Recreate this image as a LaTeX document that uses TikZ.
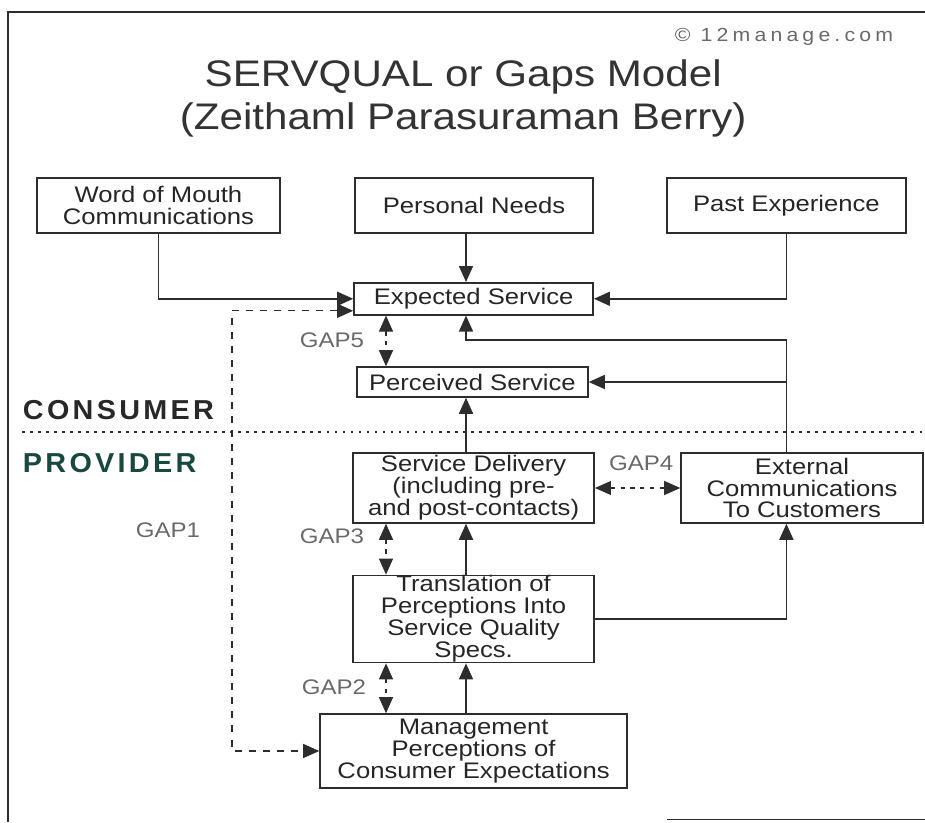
\documentclass[tikz,border=0pt]{standalone}
\usepackage{fontspec}
\setmainfont[FakeStretch=1.14]{Liberation Sans}
\newfontfamily\creditfont[FakeStretch=1.12,LetterSpace=22]{Liberation Sans}
\newfontfamily\sidefont[FakeStretch=1.05,LetterSpace=12]{Liberation Sans}
\usetikzlibrary{positioning,arrows.meta}
\definecolor{linegray}{RGB}{45,45,45}
\definecolor{gapgray}{RGB}{105,105,105}
\definecolor{consumergray}{RGB}{40,40,40}
\definecolor{providerteal}{RGB}{25,72,62}
\tikzset{
  flowarrow/.style={-{Triangle[length=4mm,width=3.5mm]}, line width=1.1pt, draw=linegray},
  gaparrow/.style={{Triangle[length=4mm,width=3.5mm]}-{Triangle[length=4mm,width=3.5mm]}, line width=0.8pt, draw=linegray, dash pattern=on 3pt off 4pt},
  modelbox/.style={draw=linegray, line width=1.1pt, fill=white, align=center, inner sep=1pt, text=black!85, font=\fontsize{16}{15.6}\selectfont},
  gaplabel/.style={text=gapgray, font=\fontsize{15}{16}\selectfont},
  sidelabel/.style={anchor=west, font=\sidefont\bfseries\fontsize{19.5}{20}\selectfont}
}

\begin{document}
\begin{tikzpicture}
  \useasboundingbox (0,0) rectangle (23.125,20.55);
  % frame of the scan
  \draw[line width=1pt, linegray] (0.2,0) -- (0.2,20.25) -- (23.125,20.25);
  \draw[line width=1pt, linegray] (16.68,0.06) -- (23.125,0.06);

  \node[text=gapgray, font=\creditfont\fontsize{13.5}{15}\selectfont] (credit) at (19.6,19.62) {© 12manage.com};
  \node[text=black!80, font=\fontsize{26.3}{30}\selectfont] (title) at (11.58,18.62) {SERVQUAL or Gaps Model};
  \node[text=black!80, font=\fontsize{26.3}{30}\selectfont] (subtitle) at (11.58,17.55) {(Zeithaml Parasuraman Berry)};

  % consumer side
  \node[modelbox, minimum width=6.08cm, minimum height=1.38cm] (mouth) at (3.96,15.41) {Word of Mouth\\Communications};
  \node[modelbox, minimum width=5.95cm, minimum height=1.38cm] (needs) at (11.85,15.41) {Personal Needs};
  \node[modelbox, minimum width=5.98cm, minimum height=1.38cm] (past) at (19.66,15.41) {Past Experience};
  \node[modelbox, minimum width=5.98cm, minimum height=0.8cm] (expected) at (11.84,13.08) {Expected Service};
  \node[modelbox, minimum width=5.78cm, minimum height=0.75cm] (perceived) at (11.81,11.0) {Perceived Service};

  % provider side
  \node[modelbox, minimum width=6.03cm, minimum height=1.75cm] (delivery) at (11.84,8.35) {Service Delivery\\(including pre-\\and post-contacts)};
  \node[modelbox, minimum width=6.05cm, minimum height=1.75cm] (external) at (20.05,8.35) {External\\Communications\\To Customers};
  \node[modelbox, inner ysep=0pt, minimum width=6.03cm, minimum height=2.18cm] (translation) at (11.84,5.075) {Translation of\\Perceptions Into\\Service Quality\\Specs.};
  \node[modelbox, minimum width=7.68cm, minimum height=1.85cm] (management) at (11.84,1.775) {Management\\Perceptions of\\Consumer Expectations};

  \coordinate (spine) at (11.65,0);
  \coordinate (rightrail) at (19.66,0);
  \coordinate (gaprail) at (9.65,0);
  \coordinate (leftrail) at (5.8,0);
  \coordinate (feedback) at (19.66,12.05);

  \draw[flowarrow] (mouth.south) |- (expected.west);
  \draw[flowarrow] (past.south) |- (expected.east);
  \draw[flowarrow] (spine |- needs.south) -- (spine |- expected.north);
  \draw[flowarrow] (rightrail |- external.north) |- (perceived.east);
  \draw[flowarrow] (rightrail |- perceived.east) -- (feedback) -| (spine |- expected.south);
  \draw[flowarrow] (spine |- delivery.north) -- (spine |- perceived.south);
  \draw[flowarrow] (spine |- translation.north) -- (spine |- delivery.south);
  \draw[flowarrow] (spine |- management.north) -- (spine |- translation.south);
  \draw[flowarrow] (translation.east) -| (rightrail |- external.south);

  % the gaps
  \draw[gaparrow] (gaprail |- expected.south) -- (gaprail |- perceived.north);
  \draw[gaparrow] (gaprail |- delivery.south) -- (gaprail |- translation.north);
  \draw[gaparrow] (gaprail |- translation.south) -- (gaprail |- management.north);
  \draw[gaparrow] (delivery.east) -- (external.west);
  \draw[gaparrow, dash pattern=on 5pt off 5pt] ([yshift=-0.3cm]expected.west) -| (leftrail |- management.west) -- (management.west);

  \node[gaplabel] (gapfive) at (8.3,12.05) {GAP5};
  \node[gaplabel] (gapfour) at (16.03,8.98) {GAP4};
  \node[gaplabel] (gapthree) at (8.3,7.15) {GAP3};
  \node[gaplabel] (gaptwo) at (8.35,3.38) {GAP2};
  \node[gaplabel] (gapone) at (4.2,7.3) {GAP1};

  \node[sidelabel, text=consumergray] (consumer) at (0.45,10.3) {CONSUMER};
  \node[sidelabel, text=providerteal] (provider) at (0.45,8.98) {PROVIDER};
  \draw[line width=2pt, linegray, dash pattern=on 2pt off 3.7pt] (0.55,9.75) -- (23.125,9.75);
\end{tikzpicture}
\end{document}
